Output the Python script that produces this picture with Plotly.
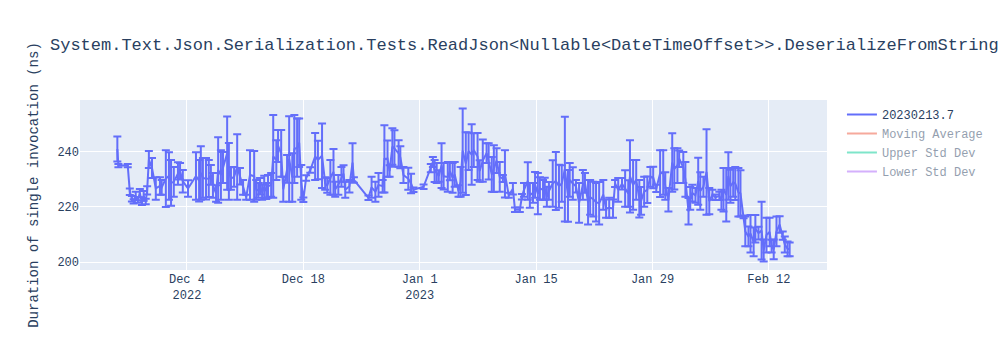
import pandas as pd
import plotly.graph_objects as go

title = "System.Text.Json.Serialization.Tests.ReadJson<Nullable<DateTimeOffset>>.DeserializeFromString"
run_name = "20230213.7"

timestamps = [
    "2022-11-25 15:00", "2022-11-25 18:00", "2022-11-26 21:00", "2022-11-27 03:00", "2022-11-27 09:00",
    "2022-11-27 14:00", "2022-11-27 20:00", "2022-11-28 02:00", "2022-11-28 08:00", "2022-11-28 14:00",
    "2022-11-28 19:00", "2022-11-29 01:00", "2022-11-29 05:00", "2022-11-29 10:00", "2022-11-29 19:00",
    "2022-11-30 06:00", "2022-11-30 18:00", "2022-11-30 23:00", "2022-12-01 11:00", "2022-12-01 20:00",
    "2022-12-02 02:00", "2022-12-02 10:00", "2022-12-02 22:00", "2022-12-03 04:00", "2022-12-03 12:00",
    "2022-12-04 03:00", "2022-12-05 02:00", "2022-12-05 11:00", "2022-12-05 16:00", "2022-12-05 22:00",
    "2022-12-06 07:00", "2022-12-06 15:00", "2022-12-06 21:00", "2022-12-07 03:00", "2022-12-07 12:00",
    "2022-12-07 18:00", "2022-12-08 02:00", "2022-12-08 08:00", "2022-12-08 20:00", "2022-12-09 01:00",
    "2022-12-09 07:00", "2022-12-09 16:00", "2022-12-10 01:00", "2022-12-10 09:00", "2022-12-10 18:00",
    "2022-12-11 03:00", "2022-12-11 14:00", "2022-12-12 02:00", "2022-12-12 08:00", "2022-12-12 14:00",
    "2022-12-12 19:00", "2022-12-13 01:00", "2022-12-13 07:00", "2022-12-13 13:00", "2022-12-13 18:00",
    "2022-12-14 03:00", "2022-12-14 09:00", "2022-12-14 18:00", "2022-12-14 23:00", "2022-12-15 08:00",
    "2022-12-15 14:00", "2022-12-16 01:00", "2022-12-16 07:00", "2022-12-16 16:00", "2022-12-16 22:00",
    "2022-12-17 06:00", "2022-12-17 12:00", "2022-12-17 18:00", "2022-12-18 00:00", "2022-12-18 08:00",
    "2022-12-18 20:00", "2022-12-19 10:00", "2022-12-19 18:00", "2022-12-20 06:00", "2022-12-20 15:00",
    "2022-12-20 21:00", "2022-12-21 06:00", "2022-12-21 15:00", "2022-12-21 20:00", "2022-12-22 05:00",
    "2022-12-22 14:00", "2022-12-22 20:00", "2022-12-23 01:00", "2022-12-23 13:00", "2022-12-23 22:00",
    "2022-12-24 02:00", "2022-12-25 20:00", "2022-12-26 05:00", "2022-12-26 16:00", "2022-12-27 01:00",
    "2022-12-27 13:00", "2022-12-27 18:00", "2022-12-28 03:00", "2022-12-28 09:00", "2022-12-28 17:00",
    "2022-12-28 23:00", "2022-12-29 11:00", "2022-12-29 16:00", "2022-12-30 01:00", "2022-12-30 15:00",
    "2022-12-30 23:00", "2022-12-31 06:00", "2023-01-01 11:00", "2023-01-02 08:00", "2023-01-02 14:00",
    "2023-01-02 19:00", "2023-01-03 01:00", "2023-01-03 07:00", "2023-01-03 15:00", "2023-01-03 21:00",
    "2023-01-04 09:00", "2023-01-04 15:00", "2023-01-04 23:00", "2023-01-05 05:00", "2023-01-05 16:00",
    "2023-01-05 22:00", "2023-01-06 04:00", "2023-01-06 13:00", "2023-01-06 21:00", "2023-01-07 06:00",
    "2023-01-07 12:00", "2023-01-07 23:00", "2023-01-08 05:00", "2023-01-08 14:00", "2023-01-09 01:00",
    "2023-01-09 07:00", "2023-01-09 16:00", "2023-01-09 22:00", "2023-01-10 06:00", "2023-01-10 15:00",
    "2023-01-11 00:00", "2023-01-11 06:00", "2023-01-11 17:00", "2023-01-12 05:00", "2023-01-12 11:00",
    "2023-01-13 01:00", "2023-01-13 07:00", "2023-01-13 13:00", "2023-01-14 00:00", "2023-01-14 06:00",
    "2023-01-14 15:00", "2023-01-14 21:00", "2023-01-15 05:00", "2023-01-15 11:00", "2023-01-15 20:00",
    "2023-01-16 01:00", "2023-01-16 07:00", "2023-01-16 13:00", "2023-01-17 00:00", "2023-01-17 09:00",
    "2023-01-17 18:00", "2023-01-18 02:00", "2023-01-18 11:00", "2023-01-18 20:00", "2023-01-19 01:00",
    "2023-01-19 10:00", "2023-01-19 19:00", "2023-01-20 04:00", "2023-01-20 15:00", "2023-01-20 21:00",
    "2023-01-21 06:00", "2023-01-21 12:00", "2023-01-21 21:00", "2023-01-22 05:00", "2023-01-22 14:00",
    "2023-01-23 02:00", "2023-01-23 10:00", "2023-01-23 19:00", "2023-01-24 06:00", "2023-01-24 12:00",
    "2023-01-24 21:00", "2023-01-25 08:00", "2023-01-25 17:00", "2023-01-26 02:00", "2023-01-26 07:00",
    "2023-01-26 16:00", "2023-01-27 01:00", "2023-01-27 10:00", "2023-01-27 15:00", "2023-01-28 00:00",
    "2023-01-28 09:00", "2023-01-28 18:00", "2023-01-29 02:00", "2023-01-29 11:00", "2023-01-29 22:00",
    "2023-01-30 07:00", "2023-01-30 13:00", "2023-01-30 22:00", "2023-01-31 09:00", "2023-01-31 15:00",
    "2023-02-01 00:00", "2023-02-01 05:00", "2023-02-01 17:00", "2023-02-01 23:00", "2023-02-02 08:00",
    "2023-02-02 13:00", "2023-02-02 19:00", "2023-02-03 04:00", "2023-02-03 12:00", "2023-02-03 18:00",
    "2023-02-04 03:00", "2023-02-04 12:00", "2023-02-04 20:00", "2023-02-05 05:00", "2023-02-05 14:00",
    "2023-02-06 01:00", "2023-02-06 07:00", "2023-02-06 13:00", "2023-02-06 21:00", "2023-02-07 03:00",
    "2023-02-07 09:00", "2023-02-07 17:00", "2023-02-07 23:00", "2023-02-08 08:00", "2023-02-08 14:00",
    "2023-02-08 23:00", "2023-02-09 04:00", "2023-02-09 13:00", "2023-02-09 19:00", "2023-02-10 04:00",
    "2023-02-10 09:00", "2023-02-10 18:00", "2023-02-11 03:00", "2023-02-11 09:00", "2023-02-11 17:00",
    "2023-02-12 02:00", "2023-02-12 08:00", "2023-02-12 14:00", "2023-02-12 22:00", "2023-02-13 07:00",
    "2023-02-13 16:00", "2023-02-13 22:00", "2023-02-14 06:00", "2023-02-14 12:00",
]

duration_ns = [
    241.0, 235.0, 235.0, 225.5, 223.0, 222.0, 224.0, 222.5, 225.0, 221.5,
    224.0, 222.0, 226.0, 237.2, 234.1, 226.7, 227.6, 227.1, 230.3, 231.2,
    228.7, 229.1, 232.1, 232.9, 229.3, 226.7, 231.2, 229.5, 232.3, 230.5,
    230.2, 230.3, 231.6, 227.8, 224.9, 233.4, 231.6, 234.3, 239.5, 232.9,
    230.3, 230.9, 234.5, 231.1, 227.1, 223.5, 231.6, 231.1, 226.2, 226.0,
    227.5, 225.3, 227.3, 225.8, 227.5, 228.0, 238.3, 237.0, 242.1, 239.4,
    226.4, 233.8, 237.4, 230.7, 241.0, 241.5, 243.3, 228.9, 222.6, 230.5,
    233.4, 238.3, 237.0, 238.6, 228.5, 227.8, 230.7, 232.7, 226.4, 228.0,
    230.9, 232.1, 226.2, 227.5, 236.1, 229.8, 223.3, 227.1, 225.5, 228.0,
    227.5, 237.4, 237.5, 233.0, 241.9, 241.2, 239.4, 238.0, 231.6, 230.2,
    228.5, 226.2, 227.3, 234.1, 236.3, 233.0, 232.3, 231.2, 235.0, 231.1,
    230.9, 233.0, 230.5, 231.8, 225.8, 229.1, 240.4, 235.7, 240.2, 239.0,
    240.6, 238.3, 233.0, 236.8, 239.5, 236.5, 231.8, 233.9, 236.8, 230.9,
    230.3, 232.0, 224.2, 226.6, 219.0, 219.0, 223.7, 226.2, 229.4, 224.2,
    225.1, 228.0, 224.8, 226.7, 226.2, 226.6, 223.7, 225.8, 228.5, 229.4,
    227.5, 228.5, 233.7, 224.0, 229.8, 228.5, 227.5, 221.5, 228.0, 228.7,
    221.7, 223.5, 222.8, 221.7, 221.3, 224.4, 219.4, 219.7, 219.4, 228.5,
    226.2, 228.4, 226.7, 224.9, 231.1, 228.0, 229.8, 223.0, 222.2, 225.5,
    226.2, 230.9, 230.7, 226.7, 232.1, 232.5, 227.6, 222.6, 236.1, 233.8,
    235.0, 237.5, 234.3, 230.0, 218.4, 223.1, 225.0, 224.2, 229.3, 225.8,
    227.3, 232.7, 222.1, 224.4, 223.5, 224.0, 222.6, 226.2, 224.4, 231.2,
    227.5, 228.9, 228.5, 225.3, 224.9, 216.4, 211.1, 209.3, 210.3, 207.3,
    212.1, 210.5, 211.4, 204.2, 209.8, 210.9, 205.8, 204.6, 211.1, 213.6,
    209.6, 206.4, 204.8, 204.6,
]

std_dev_ns = [
    4.5, 0.6, 0.6, 1.2, 1.0, 0.8, 1.5, 1.0, 1.5, 0.8,
    1.8, 1.0, 1.5, 3.1, 3.6, 4.1, 3.2, 2.7, 10.3, 8.6,
    8.3, 5.4, 4.1, 3.0, 4.1, 3.0, 8.6, 7.5, 9.7, 7.2,
    7.5, 6.7, 3.6, 4.5, 3.0, 11.9, 9.0, 5.6, 13.3, 10.3,
    4.1, 3.6, 11.9, 3.0, 2.7, 0.9, 9.0, 9.2, 3.6, 2.7,
    3.0, 2.7, 4.0, 2.9, 4.1, 4.3, 15.0, 7.2, 5.8, 8.5,
    4.5, 5.0, 15.5, 8.8, 12.3, 10.6, 8.8, 6.3, 0.8, 1.0,
    1.0, 8.5, 7.0, 11.7, 2.3, 2.7, 6.3, 8.3, 2.7, 3.6,
    3.6, 3.0, 2.9, 2.3, 7.0, 1.0, 0.8, 3.8, 3.6, 4.3,
    2.3, 12.2, 6.6, 2.1, 6.6, 6.6, 4.8, 4.0, 2.9, 4.0,
    3.5, 0.8, 0.8, 1.5, 1.8, 4.0, 3.6, 2.1, 8.1, 4.8,
    5.4, 3.3, 5.4, 4.5, 2.1, 5.4, 15.3, 11.4, 6.8, 11.0,
    6.1, 8.5, 3.9, 7.7, 3.6, 6.6, 6.3, 8.5, 4.5, 5.4,
    1.3, 8.6, 0.9, 2.1, 0.8, 0.8, 1.0, 2.5, 6.8, 4.5,
    3.6, 4.7, 7.5, 4.1, 3.6, 4.0, 3.6, 3.2, 8.4, 10.5,
    7.8, 6.6, 19.0, 9.4, 6.1, 5.9, 2.3, 7.2, 5.4, 3.6,
    8.1, 6.3, 6.3, 7.0, 7.7, 5.4, 3.3, 3.6, 3.3, 1.3,
    4.3, 2.1, 6.6, 4.8, 13.1, 9.0, 7.2, 6.8, 5.0, 5.4,
    4.8, 3.6, 3.9, 1.3, 8.5, 8.1, 5.0, 4.3, 10.6, 7.5,
    6.3, 3.0, 5.6, 6.3, 4.8, 4.1, 3.0, 2.7, 8.5, 6.8,
    3.6, 15.5, 4.8, 1.8, 1.0, 1.5, 3.6, 7.9, 9.7, 8.6,
    6.0, 5.2, 6.0, 8.8, 8.4, 0.5, 5.4, 3.6, 6.8, 5.2,
    5.0, 2.3, 10.5, 4.0, 6.3, 5.2, 2.3, 3.6, 5.4, 3.0,
    1.5, 2.9, 2.7, 2.5,
]

df = pd.DataFrame({
    "timestamp": pd.to_datetime(timestamps),
    "duration": duration_ns,
    "std": std_dev_ns,
})

# Rolling statistics, shown only when toggled on in the legend
window = 10
moving_avg = df["duration"].rolling(window, min_periods=1).mean()
moving_std = df["duration"].rolling(window, min_periods=1).std().fillna(0)

fig = go.Figure()
fig.add_trace(go.Scatter(
    x=df["timestamp"], y=df["duration"], mode="lines", name=run_name,
    error_y=dict(type="data", array=df["std"], visible=True),
))
fig.add_trace(go.Scatter(
    x=df["timestamp"], y=moving_avg, mode="lines", name="Moving Average",
    visible="legendonly",
))
fig.add_trace(go.Scatter(
    x=df["timestamp"], y=moving_avg + moving_std, mode="lines", name="Upper Std Dev",
    visible="legendonly",
))
fig.add_trace(go.Scatter(
    x=df["timestamp"], y=moving_avg - moving_std, mode="lines", name="Lower Std Dev",
    visible="legendonly",
))

fig.update_layout(
    width=1000, height=350,
    title=dict(text=title),
    font=dict(family="Courier New, monospace"),
    yaxis_title="Duration of single invocation (ns)",
    template="plotly",
)

fig.write_html("out.html")
